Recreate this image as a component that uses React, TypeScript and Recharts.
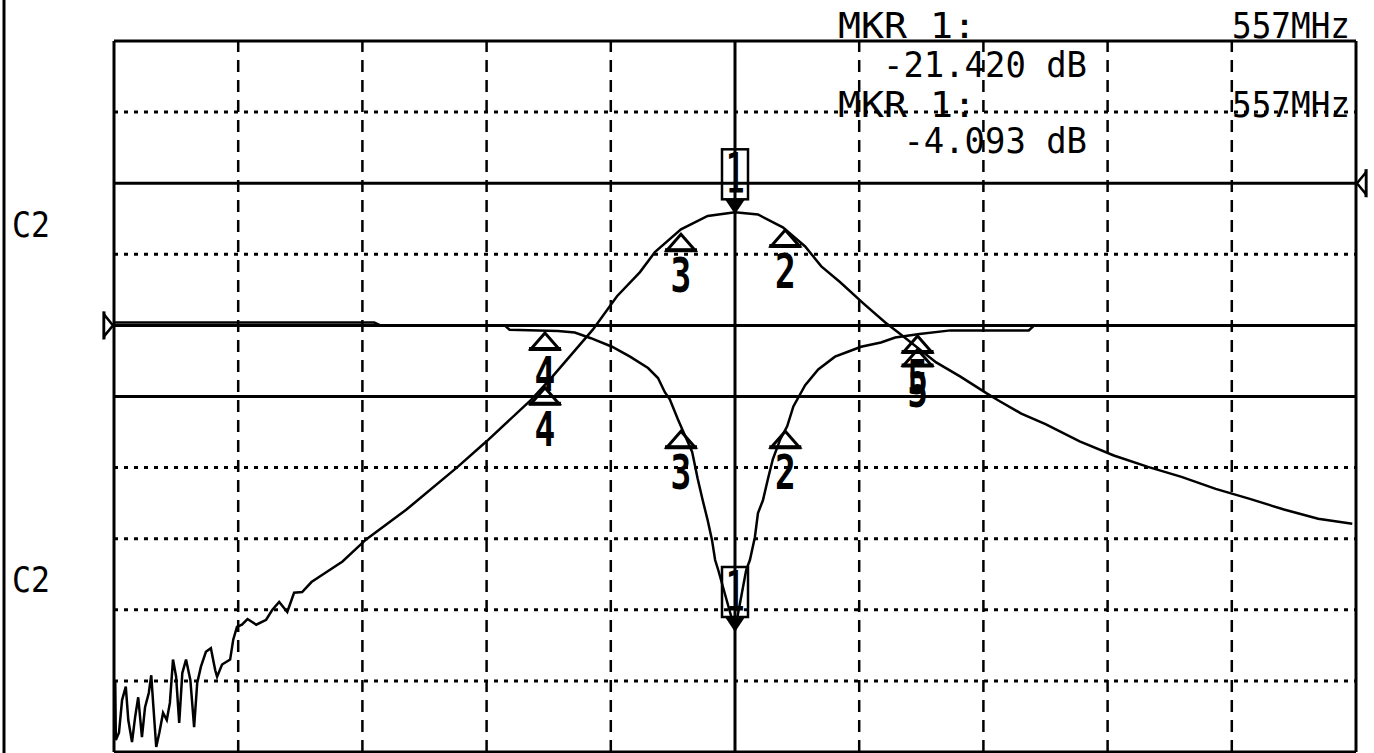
import React from 'react';
import { LineChart, Line, XAxis, YAxis, ReferenceLine, ReferenceDot } from 'recharts';

// sweep 457..657 MHz, 20 MHz/div, centre 557 MHz
const FREQ_TICKS = [457, 477, 497, 517, 537, 557, 577, 597, 617, 637, 657];
const FREQ_DASHED = [477, 497, 517, 537, 577, 597, 617, 637];
const CENTER_FREQ = 557;

// S21: 10 dB/div, ref 0 dB ; S11: 5 dB/div, ref 0 dB
const S21_TICKS = [20, 10, 0, -10, -20, -30, -40, -50, -60, -70, -80];
const S21_DOTTED = [10, -10, -40, -50, -60, -70];
const S21_SOLID = [0, -30];
const S11_SOLID = [0];

const S21_FREQ = [
  457.2, 457.3, 457.8, 458.3, 458.9, 459.3, 459.9, 460.4, 460.9, 461.5, 462.0, 462.6, 463.0, 463.3,
  463.8, 464.3, 464.9, 465.5, 466.0, 466.5, 467.0, 467.5, 468.0, 468.6, 469.3, 469.9, 470.4, 471.0,
  471.8, 472.6, 473.3, 473.6, 474.4, 475.7, 476.2, 476.8, 477.6, 478.5, 479.9, 481.5, 482.5, 483.6,
  484.9, 486.0, 487.3, 488.8, 490.5, 493.8, 497.6, 504.1, 512.2, 517.0, 523.9, 527.6, 534.1, 538.0,
  541.7, 544.1, 548.3, 552.6, 557.0, 560.7, 564.7, 568.3, 570.9, 573.9, 577.8, 581.2, 583.3, 589.4,
  593.3, 597.6, 599.7, 603.1, 607.0, 612.5, 618.0, 623.5, 628.9, 634.4, 639.9, 645.4, 650.9, 656.4,
];
const S21_DB = [
  -70.1, -78.3, -77.3, -72.7, -70.8, -75.5, -78.6, -75.1, -72.3, -77.9, -73.7, -71.7, -69.2, -73.1,
  -79.3, -77.3, -74.5, -75.5, -73.1, -67.0, -69.4, -75.9, -68.9, -67.0, -69.9, -76.5, -70.3, -68.0,
  -65.9, -65.4, -68.5, -69.4, -67.7, -67.0, -64.2, -62.4, -62.1, -61.3, -62.1, -61.4, -60.0, -58.9,
  -60.3, -57.6, -57.5, -56.1, -55.1, -53.2, -50.1, -45.9, -40.0, -36.3, -30.7, -27.2, -20.6, -15.9,
  -12.5, -9.7, -6.5, -4.6, -4.09, -4.4, -6.2, -8.9, -11.7, -13.9, -17.0, -19.6, -21.0, -25.2,
  -27.2, -29.6, -30.7, -32.4, -33.9, -36.3, -38.3, -39.9, -41.3, -43.0, -44.4, -45.9, -47.2, -47.9,
];

const S11_FREQ = [
  457.0, 498.9, 499.9, 519.9, 520.7, 528.5, 531.2, 533.8, 537.2, 540.1, 543.0, 544.6, 545.7, 546.5,
  547.8, 550.1, 551.0, 551.8, 552.6, 553.3, 553.8, 554.3, 557.0, 558.8, 559.4, 560.2, 560.7, 561.5,
  562.3, 563.1, 564.3, 565.4, 566.4, 568.3, 570.4, 573.1, 575.5, 577.3, 580.5, 582.8, 586.7, 591.7,
  604.3, 605.2, 657.0,
];
const S11_DB = [
  0.2, 0.2, 0.0, 0.0, -0.3, -0.4, -0.5, -0.9, -1.5, -2.2, -3.0, -3.7, -4.7, -5.2,
  -6.6, -8.9, -10.8, -12.3, -13.7, -15.1, -16.5, -17.2, -21.42, -17.2, -16.5, -14.9, -13.2, -12.3,
  -10.8, -9.4, -8.0, -7.1, -5.7, -4.2, -3.1, -2.2, -1.8, -1.5, -1.2, -0.85, -0.6, -0.35,
  -0.35, 0.0, 0.0,
];

const MARKER_NUMBERS = [1, 2, 3, 4, 5];
const MARKER_FREQ = [557.0, 565.1, 548.3, 526.4, 586.4];
const S21_MARKER_DB = [-4.093, -6.3, -6.9, -28.5, -23.1];
const S11_MARKER_DB = [-21.42, -7.3, -7.3, -0.4, -0.6];

const READOUT_MKR = ['MKR  1:', 'MKR  1:'];
const READOUT_FREQ = ['557MHz', '557MHz'];
const READOUT_VALUE = ['-21.420 dB', '-4.093 dB'];
const CHANNEL_LABELS = ['C2', 'C2'];

const s21Data = S21_FREQ.map((f, i) => ({ f, db: S21_DB[i] }));
const s11Data = S11_FREQ.map((f, i) => ({ f, db: S11_DB[i] }));

const INK = '#000';
const MONO = '"DejaVu Sans Mono", monospace';

function TriangleMark({ cx, cy, n }: { cx: number; cy: number; n: number }) {
  return (
    <g>
      <polygon
        points={`${cx},${cy + 2} ${cx - 14},${cy + 18} ${cx + 14},${cy + 18}`}
        fill="none"
        stroke={INK}
        strokeWidth={3}
      />
      <line x1={cx - 16} y1={cy + 18} x2={cx + 16} y2={cy + 18} stroke={INK} strokeWidth={4} />
      <text
        transform={`translate(${cx} ${cy + 60}) scale(0.72 1)`}
        textAnchor="middle"
        fontFamily={MONO}
        fontWeight="bold"
        fontSize={48}
        fill={INK}
      >
        {n}
      </text>
    </g>
  );
}

function BoxMark({ cx, cy, n }: { cx: number; cy: number; n: number }) {
  return (
    <g>
      <rect x={cx - 13} y={cy - 63} width={26} height={50} fill="none" stroke={INK} strokeWidth={2.5} />
      <polygon points={`${cx - 10},${cy - 13} ${cx + 10},${cy - 13} ${cx},${cy + 2}`} fill={INK} />
      <text
        transform={`translate(${cx} ${cy - 20}) scale(0.6 1)`}
        textAnchor="middle"
        fontFamily={MONO}
        fontSize={56}
        fill={INK}
      >
        {n}
      </text>
    </g>
  );
}

function markerShape(n: number) {
  return (p: any) => (n === 1 ? <BoxMark cx={p.cx} cy={p.cy} n={n} /> : <TriangleMark cx={p.cx} cy={p.cy} n={n} />);
}

const leftRefArrow = (p: any) => (
  <g>
    <line x1={p.cx - 10} y1={p.cy - 14} x2={p.cx - 10} y2={p.cy + 14} stroke={INK} strokeWidth={3} />
    <polygon
      points={`${p.cx - 10},${p.cy - 11} ${p.cx - 1},${p.cy} ${p.cx - 10},${p.cy + 11}`}
      fill="#fff"
      stroke={INK}
      strokeWidth={2.5}
    />
  </g>
);

const rightRefArrow = (p: any) => (
  <g>
    <line x1={p.cx + 10} y1={p.cy - 14} x2={p.cx + 10} y2={p.cy + 14} stroke={INK} strokeWidth={3} />
    <polygon
      points={`${p.cx + 10},${p.cy - 11} ${p.cx + 1},${p.cy} ${p.cx + 10},${p.cy + 11}`}
      fill="#fff"
      stroke={INK}
      strokeWidth={2.5}
    />
  </g>
);

export default function App() {
  const tickLine = { stroke: INK, strokeWidth: 3 };
  return (
    <div style={{ position: 'absolute', left: 0, top: 0, width: 1374, height: 753, background: '#fff' }}>
      <LineChart width={1374} height={753} margin={{ top: 41, right: 18, bottom: 1, left: 114 }}>
        <XAxis
          xAxisId="b"
          orientation="bottom"
          type="number"
          dataKey="f"
          domain={[457, 657]}
          ticks={FREQ_TICKS}
          interval={0}
          height={1}
          mirror
          tick={false}
          axisLine={false}
          tickSize={16}
          tickLine={tickLine}
        />
        <XAxis
          xAxisId="t"
          orientation="top"
          type="number"
          dataKey="f"
          domain={[457, 657]}
          ticks={FREQ_TICKS}
          interval={0}
          height={1}
          mirror
          tick={false}
          axisLine={false}
          tickSize={15}
          tickLine={tickLine}
        />
        <YAxis
          yAxisId="s21"
          orientation="left"
          type="number"
          domain={[-80, 20]}
          ticks={S21_TICKS}
          interval={0}
          width={1}
          mirror
          tick={false}
          axisLine={false}
          tickSize={17}
          tickLine={tickLine}
        />
        <YAxis
          yAxisId="s21r"
          orientation="right"
          type="number"
          domain={[-80, 20]}
          ticks={S21_TICKS}
          interval={0}
          width={1}
          mirror
          tick={false}
          axisLine={false}
          tickSize={17}
          tickLine={tickLine}
        />
        <YAxis yAxisId="s11" type="number" domain={[-30, 20]} hide />

        {S21_DOTTED.map((v) => (
          <ReferenceLine key={`h${v}`} xAxisId="b" yAxisId="s21" y={v} stroke={INK} strokeWidth={3} strokeDasharray="4 6" />
        ))}
        {FREQ_DASHED.map((f) => (
          <ReferenceLine key={`v${f}`} xAxisId="b" yAxisId="s21" x={f} stroke={INK} strokeWidth={2.5} strokeDasharray="12 8" />
        ))}
        <ReferenceLine xAxisId="b" yAxisId="s21" x={CENTER_FREQ} stroke={INK} strokeWidth={3} />
        {S21_SOLID.map((v) => (
          <ReferenceLine key={`s21${v}`} xAxisId="b" yAxisId="s21" y={v} stroke={INK} strokeWidth={3} />
        ))}
        {S11_SOLID.map((v) => (
          <ReferenceLine key={`s11${v}`} xAxisId="b" yAxisId="s11" y={v} stroke={INK} strokeWidth={3} />
        ))}
        <ReferenceLine xAxisId="b" yAxisId="s21" y={20} stroke={INK} strokeWidth={3} />
        <ReferenceLine xAxisId="b" yAxisId="s21" y={-80} stroke={INK} strokeWidth={3} />
        <ReferenceLine xAxisId="b" yAxisId="s21" x={457} stroke={INK} strokeWidth={3} />
        <ReferenceLine xAxisId="b" yAxisId="s21" x={657} stroke={INK} strokeWidth={3} />

        <Line
          xAxisId="b"
          yAxisId="s21"
          data={s21Data}
          dataKey="db"
          type="linear"
          dot={false}
          stroke={INK}
          strokeWidth={2.5}
          isAnimationActive={false}
        />
        <Line
          xAxisId="b"
          yAxisId="s11"
          data={s11Data}
          dataKey="db"
          type="linear"
          dot={false}
          stroke={INK}
          strokeWidth={2.5}
          isAnimationActive={false}
        />

        {MARKER_NUMBERS.map((n, i) => (
          <ReferenceDot
            key={`m21-${n}`}
            xAxisId="b"
            yAxisId="s21"
            x={MARKER_FREQ[i]}
            y={S21_MARKER_DB[i]}
            shape={markerShape(n)}
          />
        ))}
        {MARKER_NUMBERS.map((n, i) => (
          <ReferenceDot
            key={`m11-${n}`}
            xAxisId="b"
            yAxisId="s11"
            x={MARKER_FREQ[i]}
            y={S11_MARKER_DB[i]}
            shape={markerShape(n)}
          />
        ))}
        <ReferenceDot xAxisId="b" yAxisId="s11" x={457} y={0} shape={leftRefArrow} />
        <ReferenceDot xAxisId="b" yAxisId="s21" x={657} y={0} shape={rightRefArrow} />
      </LineChart>

      <svg
        width={1374}
        height={753}
        style={{ position: 'absolute', left: 0, top: 0, pointerEvents: 'none' }}
      >
        <line x1={4} y1={0} x2={4} y2={753} stroke={INK} strokeWidth={3} />
        {CHANNEL_LABELS.map((c, i) => (
          <text key={`c${i}`} x={12} y={237 + i * 355} fontFamily={MONO} fontSize={36} textLength={38} lengthAdjust="spacingAndGlyphs" fill={INK}>
            {c}
          </text>
        ))}
        {READOUT_MKR.map((m, i) => (
          <g key={`r${i}`} fontFamily={MONO} fontSize={36} fill={INK}>
            <text x={838} y={38 + i * 79} textLength={138} lengthAdjust="spacingAndGlyphs">
              {m}
            </text>
            <text x={1350} y={38 + i * 79} textAnchor="end" textLength={118} lengthAdjust="spacingAndGlyphs">
              {READOUT_FREQ[i]}
            </text>
            <text
              x={1087}
              y={77 + i * 76}
              textAnchor="end"
              textLength={READOUT_VALUE[i].length * 20.4}
              lengthAdjust="spacingAndGlyphs"
            >
              {READOUT_VALUE[i]}
            </text>
          </g>
        ))}
      </svg>
    </div>
  );
}
